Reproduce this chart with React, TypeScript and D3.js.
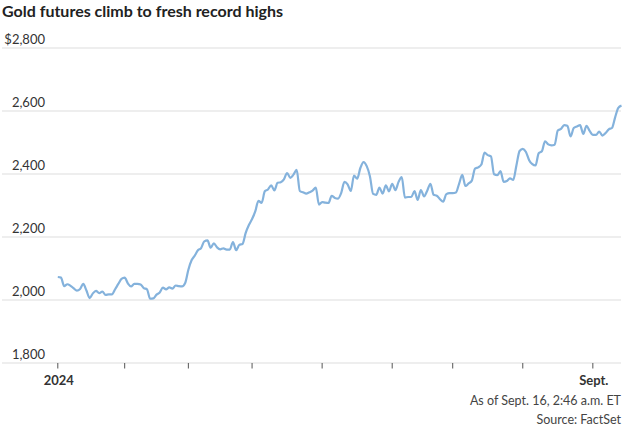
import React from "react";
import * as d3 from "d3";

const title = "Gold futures climb to fresh record highs";
const note = "As of Sept. 16, 2:46 a.m. ET";
const source = "Source: FactSet";

// Daily settlements by month (trading days)
const jan = [2073, 2071, 2044, 2050, 2045, 2037, 2030, 2035, 2051, 2030, 2006, 2021, 2029, 2022, 2027, 2016, 2018, 2018, 2034, 2051, 2067];
const feb = [2071, 2053, 2043, 2051, 2051, 2049, 2038, 2034, 2004, 2005, 2017, 2024, 2039, 2034, 2040, 2036, 2046, 2044, 2043, 2054];
const mar = [2096, 2126, 2141, 2158, 2165, 2186, 2189, 2166, 2180, 2167, 2161, 2164, 2160, 2160, 2184, 2158, 2175, 2178, 2213, 2238];
const apr = [2257, 2281, 2315, 2308, 2345, 2351, 2364, 2348, 2372, 2374, 2383, 2403, 2388, 2398, 2413, 2346, 2342, 2338, 2342, 2347, 2357, 2303];
const may = [2311, 2309, 2308, 2331, 2324, 2322, 2340, 2375, 2367, 2346, 2395, 2385, 2419, 2438, 2425, 2393, 2337, 2334, 2357, 2338, 2364, 2345];
const jun = [2369, 2349, 2375, 2390, 2325, 2327, 2327, 2346, 2318, 2349, 2329, 2347, 2369, 2334, 2331, 2320, 2312, 2336, 2339];
const jul = [2339, 2341, 2369, 2397, 2362, 2370, 2379, 2417, 2421, 2430, 2468, 2460, 2456, 2399, 2396, 2409, 2375, 2378, 2386, 2381, 2427, 2473];
const aug = [2480, 2470, 2444, 2431, 2427, 2466, 2472, 2504, 2494, 2491, 2493, 2538, 2543, 2555, 2553, 2519, 2546, 2551, 2555, 2527, 2553, 2537];
const sep = [2524, 2524, 2535, 2522, 2530, 2542, 2546, 2580, 2610, 2617];

const months = [jan, feb, mar, apr, may, jun, jul, aug, sep];
const monthLabels = ["2024", "", "", "", "", "", "", "", "Sept."];
const yTicks = [1800, 2000, 2200, 2400, 2600, 2800];

const series: number[] = months.flat();
const monthStarts: number[] = [];
{
  let acc = 0;
  for (const m of months) {
    monthStarts.push(acc);
    acc += m.length;
  }
}

const W = 632;
const H = 436;
const FONT = "Lato, 'Noto Sans', sans-serif";

export default function App() {
  const x = d3.scaleLinear().domain([0, series.length - 1]).range([57.8, 621.5]);
  const y = d3.scaleLinear().domain([1800, 2800]).range([363, 48]);
  const line = d3
    .line<number>()
    .x((_, i) => x(i))
    .y((d) => y(d))
    .curve(d3.curveMonotoneX);

  const fmt = (v: number) => (v === 2800 ? "$" : "") + d3.format(",")(v);

  return (
    <svg
      width={W}
      height={H}
      style={{ position: "absolute", left: 0, top: 0, background: "#fff" }}
      fontFamily={FONT}
    >
      <text x={2} y={17} fontSize={16} fontWeight={700} fill="#222">
        {title}
      </text>
      {yTicks.map((t) => (
        <g key={t}>
          <line x1={2} x2={621} y1={y(t)} y2={y(t)} stroke="#dddddd" strokeWidth={1} />
          <text x={45} y={y(t) - 4.5} fontSize={13} fill="#333" textAnchor="end">
            {fmt(t)}
          </text>
        </g>
      ))}
      {monthStarts.map((s, i) => (
        <g key={i}>
          <line x1={x(s)} x2={x(s)} y1={363} y2={368.5} stroke="#555" strokeWidth={1} />
          {monthLabels[i] && (
            <text x={x(s) + 1} y={385} fontSize={13} fontWeight={700} fill="#333" textAnchor="middle">
              {monthLabels[i]}
            </text>
          )}
        </g>
      ))}
      <path d={line(series) || ""} fill="none" stroke="#84b2dc" strokeWidth={2.2} strokeLinejoin="round" />
      <text x={621} y={405} fontSize={12.5} fill="#444" textAnchor="end">
        {note}
      </text>
      <text x={621} y={424} fontSize={12.5} fill="#444" textAnchor="end">
        {source}
      </text>
    </svg>
  );
}
